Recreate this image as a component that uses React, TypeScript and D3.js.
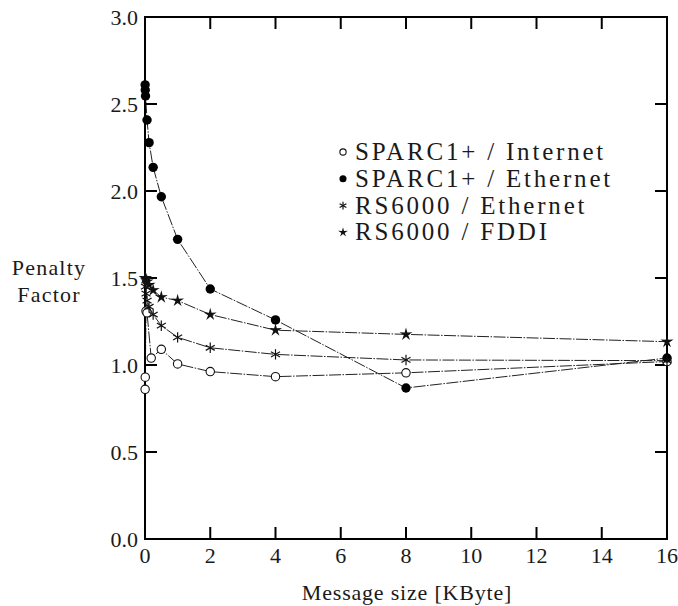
import React from "react";
import * as d3 from "d3";

// Message sizes in KByte and penalty factors per platform / network
const sparcInternetX = [0.004, 0.008, 0.031, 0.0625, 0.19, 0.5, 1, 2, 4, 8, 16];
const sparcInternetY = [0.86, 0.93, 1.31, 1.3, 1.04, 1.09, 1.006, 0.962, 0.933, 0.955, 1.02];

const sparcEthernetX = [0.004, 0.008, 0.016, 0.0625, 0.125, 0.25, 0.5, 1, 2, 4, 8, 16];
const sparcEthernetY = [2.61, 2.58, 2.546, 2.408, 2.278, 2.136, 1.967, 1.722, 1.437, 1.259, 0.868, 1.04];

const rsEthernetX = [0.016, 0.032, 0.0625, 0.125, 0.25, 0.5, 1, 2, 4, 8, 16];
const rsEthernetY = [1.45, 1.41, 1.37, 1.335, 1.29, 1.226, 1.159, 1.099, 1.061, 1.029, 1.025];

const rsFddiX = [0.004, 0.016, 0.032, 0.0625, 0.125, 0.25, 0.5, 1, 2, 4, 8, 16];
const rsFddiY = [1.5, 1.5, 1.49, 1.48, 1.46, 1.43, 1.39, 1.37, 1.29, 1.2, 1.176, 1.134];

const xTicks = [0, 2, 4, 6, 8, 10, 12, 14, 16];
const yTicks = [0, 0.5, 1, 1.5, 2, 2.5, 3];

const legendLabels = [
  "SPARC1+ / Internet",
  "SPARC1+ / Ethernet",
  "RS6000 / Ethernet",
  "RS6000 / FDDI",
];

const W = 678;
const H = 606;
const left = 145;
const right = 667;
const top = 17;
const bottom = 539;
const FONT = "'Liberation Serif', 'Times New Roman', serif";
const INK = "#1a1a1a";

const x = d3.scaleLinear().domain([0, 16]).range([left, right]);
const y = d3.scaleLinear().domain([0, 3]).range([bottom, top]);

type Kind = "open" | "filled" | "asterisk" | "star";

function starPath(outer: number, inner: number) {
  const pts: [number, number][] = [];
  for (let i = 0; i < 10; i++) {
    const r = i % 2 === 0 ? outer : inner;
    const a = -Math.PI / 2 + (i * Math.PI) / 5;
    pts.push([r * Math.cos(a), r * Math.sin(a)]);
  }
  return "M" + pts.map((p) => p[0].toFixed(2) + "," + p[1].toFixed(2)).join("L") + "Z";
}

function Marker({ kind, cx, cy, s = 1 }: { kind: Kind; cx: number; cy: number; s?: number }) {
  if (kind === "open")
    return <circle cx={cx} cy={cy} r={4.2 * s} fill="white" stroke="#111" strokeWidth={1.1} />;
  if (kind === "filled") return <circle cx={cx} cy={cy} r={4.7 * s} fill="#000" />;
  if (kind === "asterisk") {
    const r = 5.2 * s;
    const arms = [90, 30, -30].map((deg) => {
      const a = (deg * Math.PI) / 180;
      return (
        <line
          key={deg}
          x1={cx - r * Math.cos(a)}
          y1={cy - r * Math.sin(a)}
          x2={cx + r * Math.cos(a)}
          y2={cy + r * Math.sin(a)}
          stroke="#111"
          strokeWidth={1.2}
        />
      );
    });
    return <g>{arms}</g>;
  }
  return <path d={starPath(6.8 * s, 2.3 * s)} transform={`translate(${cx},${cy})`} fill="#111" />;
}

const series: { xs: number[]; ys: number[]; kind: Kind }[] = [
  { xs: sparcInternetX, ys: sparcInternetY, kind: "open" },
  { xs: sparcEthernetX, ys: sparcEthernetY, kind: "filled" },
  { xs: rsEthernetX, ys: rsEthernetY, kind: "asterisk" },
  { xs: rsFddiX, ys: rsFddiY, kind: "star" },
];

const legendKinds: Kind[] = ["open", "filled", "asterisk", "star"];

export default function App() {
  const line = d3
    .line<[number, number]>()
    .x((d) => x(d[0]))
    .y((d) => y(d[1]));

  return (
    <svg
      width={W}
      height={H}
      style={{ position: "absolute", left: 0, top: 0, background: "white" }}
    >
      {/* data lines */}
      {series.map((s, i) => (
        <path
          key={"l" + i}
          d={line(s.xs.map((v, j) => [v, s.ys[j]] as [number, number])) || ""}
          fill="none"
          stroke="#222"
          strokeWidth={1}
          strokeDasharray="12 1.5 1.5 1.5"
        />
      ))}

      {/* frame */}
      <rect
        x={left}
        y={top}
        width={right - left}
        height={bottom - top}
        fill="none"
        stroke="#000"
        strokeWidth={2}
      />

      {/* x ticks */}
      {xTicks.map((t) => (
        <g key={"xt" + t}>
          <line x1={x(t)} x2={x(t)} y1={bottom} y2={bottom - 12} stroke="#000" strokeWidth={2} />
          <line x1={x(t)} x2={x(t)} y1={top} y2={top + 12} stroke="#000" strokeWidth={2} />
          <text
            x={x(t)}
            y={bottom + 24}
            textAnchor="middle"
            fontFamily={FONT}
            fontSize={22}
            fill={INK}
          >
            {t}
          </text>
        </g>
      ))}

      {/* y ticks */}
      {yTicks.map((t) => (
        <g key={"yt" + t}>
          <line x1={left} x2={left + 12} y1={y(t)} y2={y(t)} stroke="#000" strokeWidth={2} />
          <line x1={right} x2={right - 12} y1={y(t)} y2={y(t)} stroke="#000" strokeWidth={2} />
          <text
            x={left - 7}
            y={y(t) + 7.5}
            textAnchor="end"
            fontFamily={FONT}
            fontSize={22}
            fill={INK}
          >
            {t.toFixed(1)}
          </text>
        </g>
      ))}

      {/* markers */}
      {series.map((s, i) => (
        <g key={"m" + i}>
          {s.xs.map((v, j) => (
            <Marker key={j} kind={s.kind} cx={x(v)} cy={y(s.ys[j])} />
          ))}
        </g>
      ))}

      {/* axis titles */}
      <text
        x={407}
        y={600}
        textAnchor="middle"
        fontFamily={FONT}
        fontSize={22}
        letterSpacing={0.8}
        fill={INK}
      >
        Message size [KByte]
      </text>
      <text x={49} y={275} textAnchor="middle" fontFamily={FONT} fontSize={22} letterSpacing={1.2} fill={INK}>
        Penalty
      </text>
      <text x={49} y={302} textAnchor="middle" fontFamily={FONT} fontSize={22} letterSpacing={1.2} fill={INK}>
        Factor
      </text>

      {/* legend */}
      {legendLabels.map((lab, i) => {
        const by = 160 + i * 26.8;
        return (
          <g key={"lg" + i}>
            <Marker kind={legendKinds[i]} cx={343} cy={by - 8} s={0.75} />
            <text x={355} y={by} fontFamily={FONT} fontSize={25} letterSpacing={2.8} fill={INK}>
              {lab}
            </text>
          </g>
        );
      })}
    </svg>
  );
}
